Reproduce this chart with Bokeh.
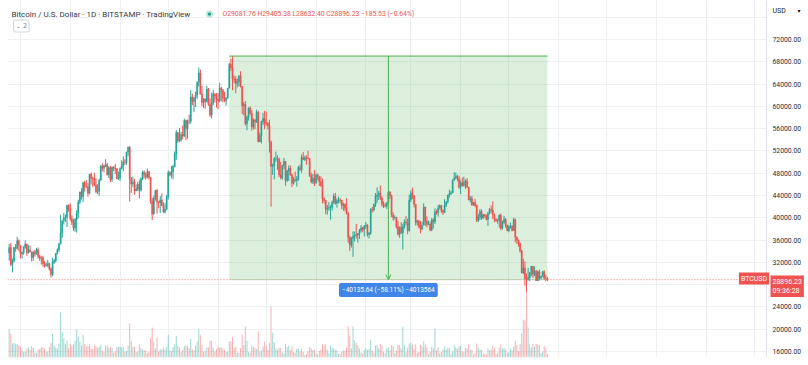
import numpy as np
import pandas as pd
from bokeh.plotting import figure
from bokeh.models import (ColumnDataSource, Range1d, FixedTicker, PrintfTickFormatter,
                          Label, Span, BoxAnnotation, Arrow, OpenHead)
from bokeh.embed import file_html
from bokeh.resources import INLINE

# ---------------- data (BTC/USD daily, Bitstamp) ----------------
start_date = "2021-06-24"
first_open = 33700

close = [
    # Jun 24-30
    34650, 31650, 32250, 34700, 34500, 35900, 35050,
    # Jul
    33550, 33830, 34690, 35310, 33760, 34240, 33880, 32880, 33810, 33530, 34270, 33110, 32730, 32820, 31790, 31400,
    31530, 31800, 30840, 29800, 32110, 32310, 33600, 34280, 35390, 37280, 39470, 39990, 40040, 42240, 41630,
    # Aug
    39900, 39190, 38150, 39710, 40880, 42820, 44630, 43830, 46290, 45600, 45570, 44430, 47830, 47100, 47040, 45940,
    44690, 44800, 46760, 49330, 48900, 49320, 49540, 47720, 48990, 46880, 49060, 48920, 48820, 47070, 47150,
    # Sep
    48850, 49280, 50010, 49940, 51790, 52660, 46860, 46100, 46380, 44840, 45160, 46030, 44960, 47110, 48140, 47760,
    47300, 48300, 47250, 42990, 40690, 43560, 44880, 42840, 42720, 43200, 42170, 41030, 41520, 43790,
    # Oct
    48140, 47660, 48200, 49220, 51500, 55330, 53800, 53940, 54960, 54660, 57470, 56000, 57370, 57340, 61670, 60880,
    61520, 62000, 64300, 66000, 62210, 60690, 61290, 60870, 63080, 60330, 58450, 60600, 62270, 61850, 61300,
    # Nov
    61000, 63230, 62940, 61440, 61010, 61530, 63300, 67540, 66940, 64900, 64860, 64160, 64400, 65510, 63600, 60100,
    60370, 56900, 58110, 59700, 58700, 56300, 57550, 57180, 58950, 53650, 54780, 57270, 57800, 56980,
    # Dec
    56940, 56500, 53600, 49200, 49400, 50600, 50600, 50500, 47700, 47150, 49400, 50100, 46700, 48400, 48900, 47700,
    46200, 46850, 46700, 46900, 49000, 48600, 50800, 50400, 50800, 50700, 50650, 47550, 46450, 47100, 46200,
    # Jan
    47700, 47300, 46450, 45800, 43400, 43100, 41550, 41700, 41850, 41850, 42750, 43900, 42600, 43100, 43200, 43100,
    42200, 42400, 41700, 40700, 36450, 35100, 36300, 36700, 36950, 36850, 37150, 37700, 38200, 37900, 38500,
    # Feb
    38700, 37000, 37300, 41550, 41400, 42400, 43850, 44100, 44400, 43550, 42400, 42200, 42100, 42550, 44600, 43950,
    40550, 40000, 40100, 38400, 37050, 38300, 37300, 38350, 39250, 39100, 37700, 43200,
    # Mar
    44400, 43950, 42450, 39150, 39400, 38400, 37950, 38700, 41950, 39400, 38800, 38850, 37800, 39650, 39300, 41100,
    40900, 41800, 42200, 41250, 41000, 42350, 42900, 44000, 44300, 44500, 46800, 47100, 47450, 47050, 45500,
    # Apr
    46300, 45800, 46400, 46600, 45500, 43200, 43450, 42300, 42750, 42200, 39500, 40100, 41150, 39950, 40550, 40400,
    39700, 40800, 41500, 41400, 40500, 39700, 39450, 39450, 40450, 38100, 39250, 39750, 38600, 37650,
    # May
    38450, 38500, 37700, 39700, 36550, 36000, 35450, 34050, 30100, 31000, 29100, 28950, 29300, 30100, 31300, 29850,
    30450, 28700, 30300, 29200, 29450, 30300, 29100, 29081.76, 28896.23,
]

high = [
    35300, 35500, 32700, 34700, 35300, 36600, 36100,
    35050, 33950, 34950, 35950, 35310, 35080, 35040, 33930, 34080, 34260, 34600, 34670, 33350, 33100, 33190, 32230,
    31950, 32460, 31900, 31050, 32830, 32630, 33650, 34500, 35400, 40550, 39530, 40880, 40590, 42320, 42410,
    42580, 40440, 39780, 39960, 41380, 43250, 44700, 45300, 46450, 46640, 46730, 46200, 47870, 48120, 47370, 48050,
    47100, 46000, 47020, 49360, 49750, 49500, 50500, 49860, 49280, 49310, 49180, 49300, 49650, 48920, 48250,
    49020, 50330, 51000, 50520, 51880, 52780, 52900, 47340, 47400, 47000, 45970, 46440, 46820, 47230, 48460, 48500,
    48150, 48820, 48340, 47300, 43600, 44000, 44980, 45200, 42970, 43900, 44350, 42780, 42600, 44120,
    48500, 48350, 49300, 49500, 51900, 55750, 55330, 56100, 55450, 56520, 57800, 57600, 57650, 58500, 62900, 62250,
    61700, 62650, 64470, 66950, 66600, 63700, 61500, 61450, 63700, 63300, 61450, 62450, 62950, 62300, 62400,
    62400, 64250, 63500, 63130, 62600, 61580, 63300, 67780, 68500, 69000, 65550, 65400, 65000, 65530, 66300, 63600,
    60800, 60950, 58350, 59850, 60000, 59300, 57850, 57750, 59400, 59200, 55300, 57400, 58850, 59200,
    59050, 57200, 57600, 53850, 49700, 50900, 51900, 51200, 50800, 50050, 49500, 50750, 50200, 48600, 49400, 49400,
    48000, 47300, 48300, 47500, 49300, 49550, 51350, 51800, 51150, 51250, 52050, 50650, 48100, 47850, 48550,
    47900, 47950, 47550, 47450, 47050, 43700, 43150, 42300, 42800, 42250, 43100, 44350, 44450, 43450, 43800, 43500,
    43200, 42700, 42600, 43500, 41100, 36800, 36550, 37550, 37550, 38900, 37250, 38000, 38700, 38350, 38700,
    39250, 38850, 37400, 41700, 41950, 42600, 44450, 45450, 44800, 45800, 43900, 42950, 42700, 42850, 44750, 44800,
    44150, 40950, 40450, 40100, 39450, 38450, 39250, 38950, 39700, 40300, 39850, 44150,
    44950, 45400, 44100, 42500, 39650, 39650, 39450, 39350, 42600, 41950, 40250, 39500, 39300, 39950, 39900, 41700,
    41450, 42300, 42400, 42300, 41500, 43350, 42900, 44200, 45050, 44800, 46900, 48200, 48100, 47700, 47550,
    46700, 47200, 47400, 46900, 47150, 45500, 43900, 43950, 42800, 43400, 42400, 40700, 41550, 41500, 40700, 40700,
    40600, 41100, 41750, 42200, 42950, 40800, 39950, 39800, 40600, 40800, 39450, 40350, 39950, 38800,
    38650, 39150, 38650, 40000, 39850, 36650, 36100, 35500, 34250, 32650, 32150, 30000, 31000, 30300, 31350, 31300,
    31300, 30650, 30500, 30700, 29600, 30450, 30600, 29800, 29405.38,
]

low = [
    32300, 31300, 30200, 32000, 33900, 34300, 34000,
    32700, 32700, 33350, 34450, 33170, 33560, 33800, 32150, 32290, 33050, 33340, 32690, 32280, 31600, 31200, 31050,
    31200, 31150, 30520, 29300, 29490, 31720, 31980, 33420, 33870, 35230, 36410, 38820, 39250, 38330, 41080,
    39440, 38700, 37650, 37500, 37330, 39880, 42460, 43270, 42800, 44700, 45360, 43780, 44200, 45970, 45550, 45680,
    44380, 44250, 43930, 46650, 48330, 48120, 49100, 47600, 47160, 46380, 46450, 48390, 47870, 46900, 46780,
    46600, 48680, 48340, 49510, 49500, 51040, 42900, 44450, 45550, 44150, 44780, 44760, 43450, 44700, 46770, 47060,
    46800, 47060, 46880, 42500, 39600, 40550, 43080, 40750, 41700, 40850, 42100, 40900, 40800, 41410,
    43300, 47450, 47100, 46900, 49050, 50400, 53400, 53600, 53700, 54100, 54500, 53900, 54200, 56800, 56900, 60200,
    58950, 59900, 61340, 63550, 62100, 60000, 59700, 59550, 60700, 60100, 58100, 57850, 60200, 60700, 59750,
    59500, 60700, 60900, 60700, 60750, 60100, 61350, 63200, 66350, 62900, 64150, 62350, 63400, 63600, 63400, 58600,
    58400, 56550, 55700, 57450, 58500, 55650, 55850, 55900, 57050, 53550, 53650, 53350, 56700, 55900,
    56500, 55850, 51700, 42000, 47700, 46900, 50050, 48600, 47350, 46900, 46800, 48700, 45750, 46400, 46600, 47550,
    45500, 45950, 46450, 45600, 46650, 48450, 48100, 50400, 50200, 49500, 50500, 47350, 46150, 46050, 45700,
    46200, 46700, 45700, 45550, 42600, 42550, 40650, 40550, 41250, 39650, 41300, 42500, 42350, 41800, 42600, 42600,
    41550, 41250, 41150, 40600, 35500, 34050, 34650, 33000, 35750, 36250, 35550, 36200, 37350, 37400, 36650,
    38000, 36600, 36300, 36950, 40950, 41150, 41950, 42700, 43200, 43200, 42000, 41750, 41850, 41600, 42450, 43350,
    40100, 39500, 39700, 38050, 36800, 36400, 37050, 34300, 38050, 38650, 37050, 37500,
    42850, 43350, 41850, 38600, 38600, 38100, 37200, 37850, 38650, 38550, 38250, 38700, 37600, 37600, 38100, 38900,
    40500, 40200, 41500, 40900, 40500, 40850, 41900, 42600, 43600, 44100, 44400, 46650, 46950, 46550, 45200,
    44250, 45650, 45550, 45150, 45400, 43150, 42750, 42150, 42150, 41900, 39250, 39250, 39600, 39600, 39800, 40050,
    39550, 38550, 40600, 40900, 39800, 39200, 39300, 38950, 38200, 37750, 37900, 38900, 38200, 37600,
    37400, 38050, 37550, 37700, 35600, 35300, 34800, 33750, 30050, 29900, 27800, 26700, 28750, 28600, 29500, 29200,
    29500, 28650, 28700, 28750, 28950, 29450, 28900, 28650, 28632.40,
]

# volume, thousand BTC
volume_k = [
    9.3, 8.0, 4.7, 4.8, 4.6, 4.5, 4.2,
    3.6, 2.4, 1.9, 2.0, 2.9, 3.4, 2.6, 3.8, 3.2, 1.7, 1.6, 2.7, 2.9, 3.5, 3.4, 3.0, 1.8, 2.1, 3.6, 4.9,
    7.8, 4.1, 3.3, 3.0, 4.7, 15.0, 8.6, 6.4, 4.5, 5.7, 3.2,
    4.6, 3.8, 4.4, 5.6, 9.3, 7.0, 5.3, 4.0, 7.7, 4.5, 3.7, 3.9, 4.6, 2.9, 2.8, 4.2, 3.8, 3.3, 3.7, 4.3,
    2.4, 1.8, 3.9, 4.0, 3.2, 3.7, 3.1, 1.6, 2.1, 3.4, 3.6,
    3.7, 3.3, 3.6, 1.9, 2.2, 3.9, 11.4, 5.5, 3.6, 3.6, 1.8, 2.0, 4.3, 3.1, 2.7, 2.5, 2.2, 1.6, 1.9, 6.5,
    10.0, 5.2, 3.0, 6.7, 2.0, 2.8, 2.6, 3.3, 2.6, 3.5,
    7.5, 2.3, 2.2, 3.6, 4.4, 7.2, 3.8, 3.3, 1.8, 2.6, 3.8, 4.0, 3.9, 3.2, 6.2, 2.7, 2.4, 3.9, 5.3, 9.3,
    7.4, 4.3, 1.9, 2.2, 3.4, 3.4, 5.7, 5.6, 3.2, 2.0, 2.8,
    3.6, 3.2, 3.5, 3.0, 2.6, 1.8, 2.0, 5.3, 5.3, 6.8, 3.1, 3.6, 1.6, 1.6, 3.2, 7.7, 4.2, 10.3, 5.6, 1.9,
    1.6, 3.9, 3.5, 3.2, 2.8, 8.7, 2.0, 2.4, 3.7, 5.3,
    3.9, 2.6, 4.9, 17.0, 8.3, 5.1, 3.0, 2.6, 3.2, 3.2, 1.7, 1.4, 4.6, 3.4, 4.0, 2.5, 3.7, 1.8, 1.6, 2.8,
    2.9, 2.0, 2.9, 1.8, 0.9, 1.2, 2.1, 3.6, 3.0, 2.5, 2.6,
    1.3, 1.1, 2.2, 2.6, 4.5, 4.0, 4.6, 2.6, 1.5, 4.0, 3.2, 3.1, 2.6, 2.4, 1.2, 1.1, 1.9, 2.3, 2.2, 3.3,
    10.3, 7.3, 3.0, 10.3, 5.7, 4.8, 4.0, 3.0, 1.7, 1.3, 2.6,
    3.0, 2.6, 2.8, 6.0, 2.3, 1.6, 3.9, 4.1, 3.0, 4.4, 4.0, 1.9, 1.4, 3.1, 3.4, 2.3, 4.1, 3.8, 1.4, 2.4,
    4.3, 4.1, 3.0, 10.3, 4.0, 1.8, 3.2, 4.7,
    5.0, 4.3, 2.9, 4.4, 1.6, 1.8, 4.2, 3.7, 5.4, 4.3, 3.4, 1.2, 1.9, 3.6, 3.0, 9.7, 2.4, 3.3, 1.4, 1.8,
    2.7, 3.6, 2.6, 3.2, 3.1, 1.1, 2.0, 4.2, 3.4, 2.8, 3.7,
    3.9, 2.2, 1.8, 3.2, 2.9, 4.4, 2.4, 2.7, 1.0, 1.5, 4.7, 3.2, 2.6, 2.5, 1.5, 1.0, 1.2, 3.0, 2.4, 2.6,
    3.9, 3.0, 1.1, 1.3, 3.3, 4.3, 3.0, 3.2, 2.7, 1.6,
    1.8, 3.1, 2.3, 3.7, 5.6, 4.1, 2.2, 4.4, 8.0, 12.7, 12.3, 22.3, 10.0, 4.3, 3.3, 4.5, 3.6, 4.6, 4.3, 4.2,
    1.5, 2.0, 3.8, 3.1, 1.2,
]

price_ticks = [16000, 20000, 24000, 28000, 32000, 36000, 40000, 44000, 48000, 52000, 56000, 60000,
               64000, 68000, 72000]
grid_ticks = price_ticks + [76000]

measure_start = "2021-11-08"
measure_high = 69031.87
measure_low = 28896.23
measure_text = "\u221240135.64 (\u221258.11%) \u22124013564"

title_text = "Bitcoin / U.S. Dollar \u00b7 1D \u00b7 BITSTAMP \u00b7 TradingView"
countdown = "09:36:28"

# ---------------- layout constants (page pixels) ----------------
LEFT_PX, TOP_PX = 7, 0
FRAME_W, FRAME_H = 801, 357          # frame runs under the price scale too
PANE_RIGHT_PX = 766                  # where the price scale begins
LABEL_LEFT_PX = 772                  # left edge of price-scale labels
BOTTOM_BORDER = 7
P_HI, P_HI_PX = 72000, 39
P_LO, P_LO_PX = 16000, 351
DAY_PX = 1.6066
FIRST_PX = 8.7

ppx = (P_LO_PX - P_HI_PX) / (P_HI - P_LO)
y_end = P_HI + (P_HI_PX - TOP_PX) / ppx
y_start = P_HI - (TOP_PX + FRAME_H - P_HI_PX) / ppx
x_start = (LEFT_PX - FIRST_PX) / DAY_PX
x_end = (LEFT_PX + FRAME_W - FIRST_PX) / DAY_PX


def X(px):
    return (px - FIRST_PX) / DAY_PX


def Y(py):
    return P_HI - (py - P_HI_PX) / ppx


UP, DN = "#26a69a", "#ef5350"

n = len(close)
idx = np.arange(n)
opn = [first_open] + close[:-1]
up = [c >= o for c, o in zip(close, opn)]
src = ColumnDataSource(dict(
    idx=idx, open=opn, close=close, high=high, low=low,
    top=[max(o, c) for o, c in zip(opn, close)],
    bottom=[min(o, c) for o, c in zip(opn, close)],
    color=[UP if u else DN for u in up],
    vol=volume_k,
))

t0 = pd.Timestamp(start_date)
months = pd.date_range("2021-07-01", "2022-10-01", freq="MS")
month_idx = [(m - t0).days for m in months]

p = figure(frame_width=FRAME_W, frame_height=FRAME_H,
           x_range=Range1d(x_start, x_end), y_range=Range1d(y_start, y_end),
           x_axis_location=None, y_axis_location="right",
           toolbar_location=None, output_backend="svg",
           min_border_left=LEFT_PX, min_border_right=0,
           min_border_top=TOP_PX, min_border_bottom=BOTTOM_BORDER,
           outline_line_color=None, background_fill_color="white", border_fill_color="white")

p.extra_y_ranges = {"vol": Range1d(0, FRAME_H / 3.0)}

p.xgrid.ticker = FixedTicker(ticks=month_idx)
p.ygrid.ticker = FixedTicker(ticks=grid_ticks)
p.xgrid.grid_line_color = "#eef0f4"
p.ygrid.grid_line_color = "#eef0f4"

# price scale: real axis, labels pulled back over the right strip of the frame
ax = p.yaxis[0]
ax.ticker = FixedTicker(ticks=price_ticks)
ax.formatter = PrintfTickFormatter(format="%.2f")
ax.major_label_text_font = "Roboto"
ax.major_label_text_font_size = "6.8px"
ax.major_label_text_color = "#2a2e39"
ax.axis_line_color = None
ax.major_tick_line_color = None
ax.minor_tick_line_color = None
ax.major_tick_in = 0
ax.major_tick_out = 0
ax.minor_tick_in = 0
ax.minor_tick_out = 0
ax.major_label_standoff = -(LEFT_PX + FRAME_W - LABEL_LEFT_PX)

# volume
p.vbar(x="idx", width=0.62, top="vol", bottom=0, y_range_name="vol",
       fill_color="color", line_color=None, fill_alpha=0.45, source=src)

# measure box
m_left = (pd.Timestamp(measure_start) - t0).days
m_right = idx[-1]
p.add_layout(BoxAnnotation(left=m_left, right=m_right, top=measure_high, bottom=measure_low,
                           fill_color="#4caf50", fill_alpha=0.2, line_alpha=0, level="underlay"))
p.segment(x0=[m_left], y0=[measure_high], x1=[m_right], y1=[measure_high],
          line_color="#4caf50", line_width=1)
p.segment(x0=[m_left], y0=[measure_low], x1=[m_right], y1=[measure_low],
          line_color="#9ccf9d", line_width=1, line_alpha=0.6)

# price line
p.add_layout(Span(location=close[-1], dimension="width", line_color=DN,
                  line_dash="1 2", line_width=1, line_alpha=0.8, level="underlay"))

# candles
p.segment(x0="idx", y0="low", x1="idx", y1="high", line_color="color", line_width=1, source=src)
p.vbar(x="idx", width=0.85, top="top", bottom="bottom", fill_color="color",
       line_color="color", line_width=0.3, source=src)

# price-scale strip: white background + divider
p.add_layout(BoxAnnotation(left=X(PANE_RIGHT_PX), fill_color="white", fill_alpha=1.0,
                           line_alpha=0, level="glyph"))
p.add_layout(Span(location=X(PANE_RIGHT_PX), dimension="height", line_color="#e0e3eb",
                  line_width=1, level="glyph"))

# measure arrow & label
xm = (m_left + m_right) / 2
p.add_layout(Arrow(end=OpenHead(size=5, line_color="#4caf50", line_width=1),
                   x_start=xm, y_start=measure_high, x_end=xm, y_end=measure_low,
                   line_color="#4caf50", line_width=1))
p.add_layout(Label(x=xm, y=Y(289.5), text=measure_text, text_align="center", text_baseline="middle",
                   text_color="white", text_font="Roboto", text_font_size="6.5px",
                   background_fill_color="#3f86e8", padding=3, border_radius=2))


def canvas_label(x, y, text, **kw):
    return Label(x=x, y=y, x_units="canvas", y_units="canvas", text=text, **kw)


# legend texts
p.add_layout(canvas_label(11, 13.5, title_text, text_baseline="middle",
                          text_font="Roboto", text_font_size="8px", text_color="#363a45"))
p.scatter(x=[X(209)], y=[Y(13.5)], size=5, fill_color="#089981",
          line_color="#b9e3dd", line_width=2)
ohlc_text = "O{:.2f} H{:.2f} L{:.2f} C{:.2f} \u2212{:.2f} (\u2212{:.2f}%)".format(
    opn[-1], high[-1], low[-1], close[-1], opn[-1] - close[-1], (opn[-1] - close[-1]) / opn[-1] * 100)
p.add_layout(canvas_label(222, 13.5, ohlc_text, text_baseline="middle",
                          text_font="Roboto", text_font_size="6.8px", text_color=DN))
p.add_layout(canvas_label(13, 25.5, "\u2304 2", text_baseline="middle",
                          text_font="DejaVu Sans", text_font_size="6.5px", text_color="#787b86",
                          background_fill_color="white", border_line_color="#d1d4dc",
                          padding=2, border_radius=2))

# axis header and price tags
p.add_layout(canvas_label(772, 10, "USD", text_baseline="middle",
                          text_font="Roboto", text_font_size="7px", text_color="#131722"))
p.add_layout(canvas_label(797, 10, "\u25be", text_baseline="middle",
                          text_font="DejaVu Sans", text_font_size="6px", text_color="#131722"))
p.add_layout(canvas_label(753.5, 278, "BTCUSD", text_align="center",
                          text_baseline="middle", text_font="Roboto", text_font_size="7px",
                          text_color="white", background_fill_color=DN, padding=2))
p.add_layout(canvas_label(770, 275, "{:.2f}\n{}".format(close[-1], countdown),
                          text_baseline="top", text_font="Roboto", text_font_size="7px",
                          text_color="white", background_fill_color=DN, padding=2))

open("out.html", "w").write(file_html(p, INLINE))
